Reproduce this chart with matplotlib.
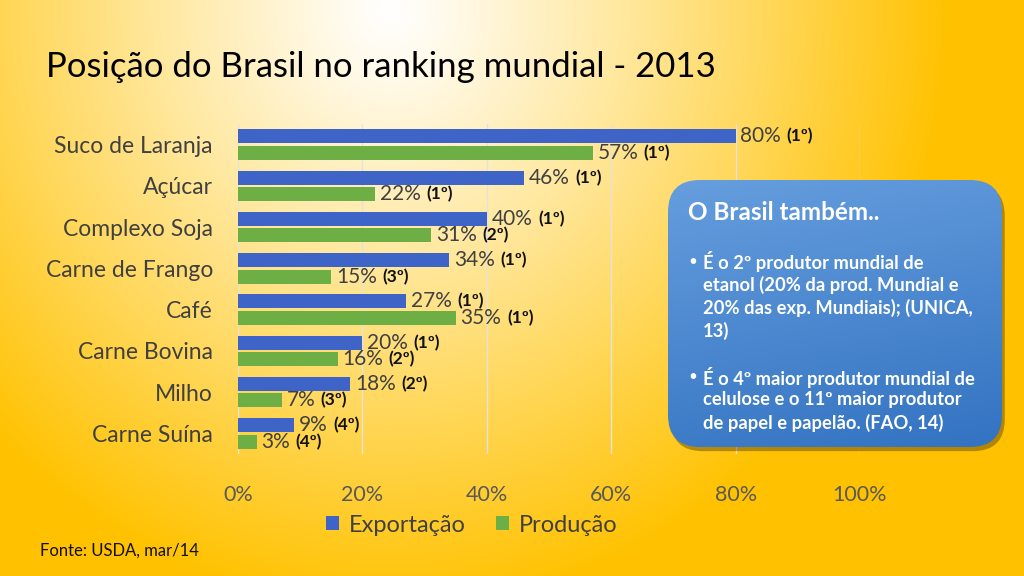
import numpy as np
import matplotlib
matplotlib.use("Agg")
import matplotlib.pyplot as plt
from matplotlib.patches import FancyBboxPatch
import matplotlib.patheffects as pe

plt.rcParams['font.family'] = ['Lato', 'DejaVu Sans']

categories = ["Suco de Laranja", "Açúcar", "Complexo Soja", "Carne de Frango",
              "Café", "Carne Bovina", "Milho", "Carne Suína"]
exportacao = [80, 46, 40, 34, 27, 20, 18, 9]
producao = [57, 22, 31, 15, 35, 16, 7, 3]
rank_exp = ["(1º)", "(1º)", "(1º)", "(1º)", "(1º)", "(1º)", "(2º)", "(4º)"]
rank_prod = ["(1º)", "(1º)", "(2º)", "(3º)", "(1º)", "(2º)", "(3º)", "(4º)"]
xticks = [0, 20, 40, 60, 80, 100]
xticklabels = ["0%", "20%", "40%", "60%", "80%", "100%"]

title = "Posição do Brasil no ranking mundial - 2013"
box_title = "O Brasil também.."
box_bullets = [
    "É o 2º produtor mundial de\netanol (20% da prod. Mundial e\n20% das exp. Mundiais); (UNICA,\n13)",
    "É o 4º maior produtor mundial de\ncelulose e o 11º maior produtor\nde papel e papelão. (FAO, 14)",
]
source = "Fonte: USDA, mar/14"

W, H = 1024, 576
fig = plt.figure(figsize=(W / 100, H / 100), dpi=100)

# background radial gradient
bg = fig.add_axes([0, 0, 1, 1], zorder=0)
yy, xx = np.mgrid[0:H, 0:W]
r = np.sqrt(((xx - 390) / 560.0) ** 2 + ((yy - 10) / 600.0) ** 2)
t = np.clip(r, 0, 1) ** 1.1
white = np.array([1.0, 1.0, 1.0])
yellow = np.array([1.0, 0.76, 0.0])
img = white[None, None, :] * (1 - t[..., None]) + yellow[None, None, :] * t[..., None]
bg.imshow(img, extent=[0, W, H, 0], aspect='auto')
bg.set_xlim(0, W)
bg.set_ylim(H, 0)
bg.axis('off')

# main chart
ax = fig.add_axes([238 / W, 1 - 454 / H, 622 / W, 330 / H], zorder=1)
ax.set_facecolor('none')
y = np.arange(len(categories))
bh = 0.34
blue = '#3D64C6'
green = '#6DAE45'
b1 = ax.barh(y - 0.2, exportacao, height=bh, color=blue, label='Exportação', zorder=3)
b2 = ax.barh(y + 0.2, producao, height=bh, color=green, label='Produção', zorder=3)
ax.set_xlim(0, 100)
ax.set_ylim(len(categories) - 0.5, -0.5)
ax.set_xticks(xticks)
ax.set_xticklabels(xticklabels, fontsize=15.5, color='#595959')
ax.set_yticks(y)
ax.set_yticklabels(categories, fontsize=16.5, color='#404040')
ax.tick_params(axis='both', length=0)
ax.tick_params(axis='x', pad=22)
ax.tick_params(axis='y', pad=18)
for s in ax.spines.values():
    s.set_visible(False)
ax.grid(axis='x', color='#E6E2D6', linewidth=1, zorder=0)

for vals, ranks, off in ((exportacao, rank_exp, -0.2), (producao, rank_prod, 0.2)):
    for i, (v, rk) in enumerate(zip(vals, ranks)):
        tv = ax.annotate(f"{v}%", xy=(v, i + off), xytext=(3.5, 0),
                         textcoords='offset points', va='center', ha='left',
                         fontsize=15, color='#404040', zorder=5)
        ax.annotate(rk, xy=(1, 0.5), xycoords=tv, xytext=(4, 0),
                    textcoords='offset points', va='center', ha='left',
                    fontsize=12.5, fontweight='bold', color='#111111', zorder=5)

# overlay
ov = fig.add_axes([0, 0, 1, 1], zorder=3)
ov.set_facecolor('none')
ov.set_xlim(0, W)
ov.set_ylim(H, 0)
ov.axis('off')

ov.text(46, 67, title, fontsize=25, color='#000000', va='center', ha='left')
ov.text(40, 551, source, fontsize=12, color='#111111', va='center', ha='left')

ax.legend(handles=[b1, b2], loc='center', bbox_to_anchor=(472 / W, 1 - 525 / H),
          bbox_transform=fig.transFigure, ncol=2, frameon=False, fontsize=17,
          handlelength=0.55, handleheight=0.55, columnspacing=1.3, handletextpad=0.4,
          labelcolor='#404040')

# info box
bx0, by0, bx1, by1 = 668, 180, 1002, 447
box = FancyBboxPatch((bx0, by0), bx1 - bx0, by1 - by0,
                     boxstyle="round,pad=0,rounding_size=32",
                     facecolor='none', edgecolor='none', zorder=2,
                     path_effects=[pe.SimplePatchShadow(offset=(2, -3), shadow_rgbFace='#000000', alpha=0.3)])
ov.add_patch(box)
gy, gx = np.mgrid[0:100, 0:100]
gt = (gy / 99.0) * 0.8 + (gx / 99.0) * 0.2
top = np.array([0.40, 0.62, 0.87])
bot = np.array([0.20, 0.45, 0.76])
gimg = top[None, None, :] * (1 - gt[..., None]) + bot[None, None, :] * gt[..., None]
im = ov.imshow(gimg, extent=[bx0, bx1, by1, by0], aspect='auto', zorder=3)
clip = FancyBboxPatch((bx0, by0), bx1 - bx0, by1 - by0,
                      boxstyle="round,pad=0,rounding_size=32",
                      facecolor='none', edgecolor='none', transform=ov.transData)
ov.add_patch(clip)
im.set_clip_path(clip)
ov.set_xlim(0, W)
ov.set_ylim(H, 0)

ov.text(688, 213, box_title, fontsize=17.5, fontweight='bold', color='white',
        va='center', ha='left', zorder=4)
ystarts = [262, 377]
for yb, txt in zip(ystarts, box_bullets):
    ov.text(688, yb, "•", fontsize=11, color='white', va='center', ha='left', zorder=4)
    for k, line in enumerate(txt.split("\n")):
        ov.text(703, yb + k * 23, line, fontsize=13.2, fontweight='bold',
                color='white', va='center', ha='left', zorder=4)

fig.savefig("out.png", dpi=100)
